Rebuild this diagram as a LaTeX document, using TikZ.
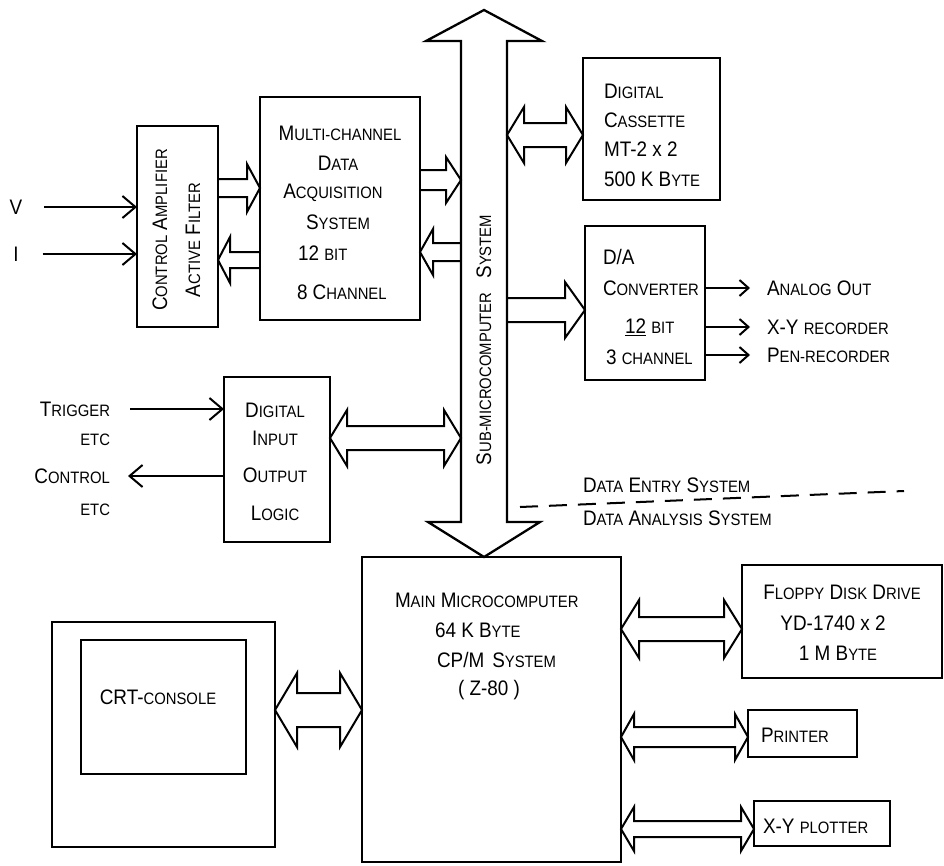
\documentclass[tikz,border=0pt]{standalone}
\usepackage{fontspec}
\setmainfont{Liberation Sans}[FakeStretch=0.9]
\usetikzlibrary{arrows.meta,calc}
\newcommand\smc[1]{{\fontsize{16.5}{16.5}\selectfont #1}}
\begin{document}
\begin{tikzpicture}[x=1pt,y=-1pt,
  every node/.style={inner sep=0pt,outer sep=0pt,font=\fontsize{21}{23}\selectfont},
  box/.style={draw,line width=2.3pt,anchor=north west},
  ln/.style={line width=2pt},
  barb/.style={ln,-{Straight Barb[length=13pt,width=22pt,line width=2pt]}},
  sbarb/.style={ln,-{Straight Barb[length=9pt,width=16pt,line width=2pt]}},
  fat/.style={draw,line width=2pt,line join=miter},
  fatR/.style n args={3}{to path={let \p1=(\tikztostart),\p2=(\tikztotarget) in
    (\x1,\y1+#1) -- (\x2-#3,\y1+#1) -- (\x2-#3,\y1+#2) -- (\x2,\y1) -- (\x2-#3,\y1-#2) -- (\x2-#3,\y1-#1) -- (\x1,\y1-#1)}},
  fatL/.style n args={3}{to path={let \p1=(\tikztostart),\p2=(\tikztotarget) in
    (\x1,\y1+#1) -- (\x2+#3,\y1+#1) -- (\x2+#3,\y1+#2) -- (\x2,\y1) -- (\x2+#3,\y1-#2) -- (\x2+#3,\y1-#1) -- (\x1,\y1-#1)}},
  fatLR/.style n args={3}{to path={let \p1=(\tikztostart),\p2=(\tikztotarget) in
    (\x1+#3,\y1+#1) -- (\x2-#3,\y1+#1) -- (\x2-#3,\y1+#2) -- (\x2,\y1) -- (\x2-#3,\y1-#2) -- (\x2-#3,\y1-#1)
    -- (\x1+#3,\y1-#1) -- (\x1+#3,\y1-#2) -- (\x1,\y1) -- (\x1+#3,\y1+#2) -- cycle}},
]
\useasboundingbox[fill=white] (0,0) rectangle (944,865);

% ---- boxes ----
\node[box,minimum width=81pt,minimum height=201pt] (amp) at (137,126) {};
\node[box,minimum width=160pt,minimum height=223pt] (mc) at (260,97) {};
\node[box,minimum width=137pt,minimum height=142pt] (cas) at (583,58) {};
\node[box,minimum width=120pt,minimum height=154pt] (da) at (585,226) {};
\node[box,minimum width=106pt,minimum height=165pt] (dio) at (224,377) {};
\node[box,minimum width=259pt,minimum height=305pt] (main) at (362,557) {};
\node[box,minimum width=223pt,minimum height=225pt] (crt) at (52,622) {};
\node[box,minimum width=165pt,minimum height=134pt] (crtin) at (81,640) {};
\node[box,minimum width=200pt,minimum height=113pt] (fdd) at (742,565) {};
\node[box,minimum width=109pt,minimum height=47pt] (prn) at (748,710) {};
\node[box,minimum width=136pt,minimum height=45pt] (plt) at (754,801) {};

% ---- bus ----
\coordinate (busL) at (461,300);
\coordinate (busR) at (507,300);
\draw[fat,line width=2.3pt] (461,41) -- (426,41) -- (484,10) -- (542,41) -- (507,41) -- (507,522)
  -- (540,522) -- (484,557) -- (428,522) -- (461,522) -- cycle;
\node[rotate=90] (buslbl) at (484,340) {S\smc{UB-MICROCOMPUTER}\hspace{14pt}S\smc{YSTEM}};

% ---- texts ----
\node[rotate=90] (ampa) at (160,230) {C\smc{ONTROL} A\smc{MPLIFIER}};
\node[rotate=90] (ampb) at (193,240) {A\smc{CTIVE} F\smc{ILTER}};

\node (mc1) at (340,133) {M\smc{ULTI-CHANNEL}};
\node (mc2) at (338,163) {D\smc{ATA}};
\node (mc3) at (333,193) {A\smc{CQUISITION}};
\node (mc4) at (338,222) {S\smc{YSTEM}};
\node[anchor=west] (mc5) at (298,253) {12 \smc{BIT}};
\node[anchor=west] (mc6) at (297,292) {8 C\smc{HANNEL}};

\node[anchor=west] (cas1) at (604,91) {D\smc{IGITAL}};
\node[anchor=west] (cas2) at (604,120) {C\smc{ASSETTE}};
\node[anchor=west] (cas3) at (604,149) {MT-2 x 2};
\node[anchor=west] (cas4) at (604,179) {500 K B\smc{YTE}};

\node[anchor=west] (da1) at (603,257) {D/A};
\node[anchor=west] (da2) at (603,288) {C\smc{ONVERTER}};
\node[anchor=west] (da3) at (625,327) {\underline{12} \smc{BIT}};
\node[anchor=west] (da4) at (606,357) {3 \smc{CHANNEL}};

\node[anchor=west] (outa) at (767,288) {A\smc{NALOG} O\smc{UT}};
\node[anchor=west] (outb) at (767,327) {X-Y \smc{RECORDER}};
\node[anchor=west] (outc) at (767,355) {P\smc{EN-RECORDER}};

\node (dio1) at (275,410) {D\smc{IGITAL}};
\node (dio2) at (275,438) {I\smc{NPUT}};
\node (dio3) at (275,475) {O\smc{UTPUT}};
\node (dio4) at (275,513) {L\smc{OGIC}};

\node[anchor=east] (trig) at (110,409) {T\smc{RIGGER}};
\node[anchor=east] (etc1) at (110,440) {\smc{ETC}};
\node[anchor=east] (ctl) at (110,476) {C\smc{ONTROL}};
\node[anchor=east] (etc2) at (110,510) {\smc{ETC}};

\node (vlbl) at (16,207) {V};
\node (ilbl) at (16,254) {I};

\node[anchor=west] (de) at (583,485) {D\smc{ATA} E\smc{NTRY} S\smc{YSTEM}};
\node[anchor=west] (dan) at (583,518) {D\smc{ATA} A\smc{NALYSIS} S\smc{YSTEM}};
\coordinate (dashA) at (520,507);
\coordinate (dashB) at (904,491);
\draw[line width=2pt,dash pattern=on 18pt off 11pt] (dashA) -- (dashB);

\node[anchor=west] (m1) at (395,600) {M\smc{AIN} M\smc{ICROCOMPUTER}};
\node[anchor=west] (m2) at (435,630) {64 K B\smc{YTE}};
\node[anchor=west] (m3) at (437,660) {CP/M\hspace{8pt}S\smc{YSTEM}};
\node[anchor=west] (m4) at (458,690) {( Z-80 )};

\node (crtl) at (158,697) {CRT-\smc{CONSOLE}};

\node (f1) at (842,592) {F\smc{LOPPY} D\smc{ISK} D\smc{RIVE}};
\node (f2) at (833,623) {YD-1740 x 2};
\node (f3) at (838,653) {1 M B\smc{YTE}};
\node[anchor=west] (p1) at (761,735) {P\smc{RINTER}};
\node[anchor=west] (x1) at (763,826) {X-Y \smc{PLOTTER}};

% ---- thin arrows ----
\draw[barb] ([xshift=22pt]vlbl.east) -- (amp.west |- vlbl);
\draw[barb] ([xshift=24pt]ilbl.east) -- (amp.west |- ilbl);
\draw[barb] ([xshift=20pt]trig.east) -- (dio.west |- trig);
\draw[barb] (dio.west |- ctl) -- ([xshift=18pt]ctl.east);
\draw[sbarb] (da.east |- outa) -- ([xshift=-17pt]outa.west);
\draw[sbarb] (da.east |- outb) -- ([xshift=-17pt]outb.west);
\draw[sbarb] (da.east |- outc) -- ([xshift=-17pt]outc.west);

% ---- fat arrows ----
\draw[fat] (amp.east |- 0,188) to[fatR={9pt}{24pt}{13pt}] (mc.west |- 0,188);
\draw[fat] (mc.west |- 0,260) to[fatL={8pt}{23pt}{12pt}] (amp.east |- 0,260);
\draw[fat] (mc.east |- 0,180) to[fatR={10pt}{23pt}{15pt}] (busL |- 0,180);
\draw[fat] (busL |- 0,252) to[fatL={9pt}{23pt}{13pt}] (mc.east |- 0,252);
\draw[fat] (busR |- 0,135) to[fatLR={12pt}{28pt}{17pt}] (cas.west |- 0,135);
\draw[fat] (busR |- 0,310) to[fatR={12pt}{28pt}{20pt}] (da.west |- 0,310);
\draw[fat] (dio.east |- 0,438) to[fatLR={12pt}{28pt}{17pt}] (busL |- 0,438);
\draw[fat] (crt.east |- 0,710) to[fatLR={17pt}{37pt}{22pt}] (main.west |- 0,710);
\draw[fat] (main.east |- 0,629) to[fatLR={12pt}{29pt}{18pt}] (fdd.west |- 0,629);
\draw[fat] (main.east |- 0,737) to[fatLR={10pt}{23pt}{13pt}] (prn.west |- 0,737);
\draw[fat] (main.east |- 0,829) to[fatLR={8pt}{22pt}{13pt}] (plt.west |- 0,829);
\end{tikzpicture}
\end{document}
